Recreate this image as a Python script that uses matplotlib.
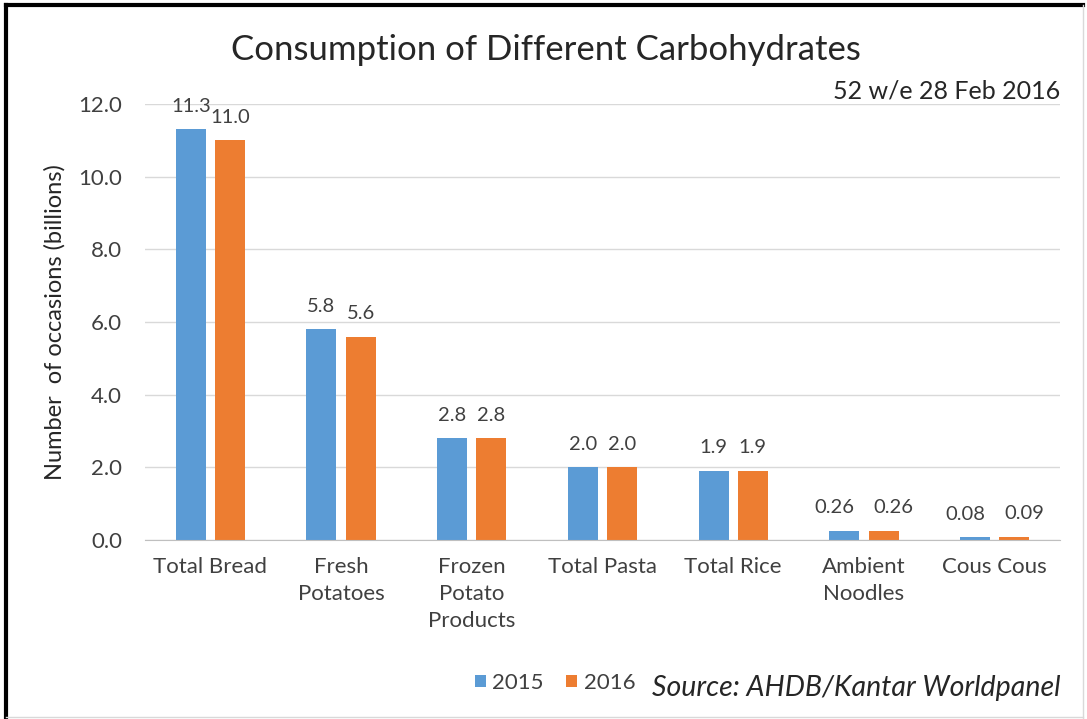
import matplotlib
matplotlib.use("Agg")
import matplotlib.pyplot as plt
import numpy as np
from matplotlib.lines import Line2D

plt.rcParams['font.family'] = ['Lato', 'DejaVu Sans']

categories = ["Total Bread", "Fresh\nPotatoes", "Frozen\nPotato\nProducts", "Total Pasta",
              "Total Rice", "Ambient\nNoodles", "Cous Cous"]
vals_2015 = [11.3, 5.8, 2.8, 2.0, 1.9, 0.26, 0.08]
vals_2016 = [11.0, 5.6, 2.8, 2.0, 1.9, 0.26, 0.09]
labels_2015 = ["11.3", "5.8", "2.8", "2.0", "1.9", "0.26", "0.08"]
labels_2016 = ["11.0", "5.6", "2.8", "2.0", "1.9", "0.26", "0.09"]
yticks = [0, 2, 4, 6, 8, 10, 12]

blue = "#5B9BD5"
orange = "#ED7D31"
txt = "#404040"

fig = plt.figure(figsize=(10.87, 7.19), dpi=100)
ax = fig.add_axes([145/1087, 1-540/719, (1060-145)/1087, (540-104)/719])

x = np.arange(len(categories))
w = 0.23
off = 0.15
b1 = ax.bar(x - off, vals_2015, w, color=blue, label="2015")
b2 = ax.bar(x + off, vals_2016, w, color=orange, label="2016")

# labels: spread apart horizontally (like Excel) where two "0.xx" labels would collide
for rect1, rect2, l1, l2 in zip(b1, b2, labels_2015, labels_2016):
    wide = l1.startswith("0.") and l2.startswith("0.")
    nudge = 7 if wide else 0
    for rect, lab, sgn in ((rect1, l1, -1), (rect2, l2, 1)):
        ax.annotate(lab, (rect.get_x() + rect.get_width()/2, rect.get_height() + 0.4),
                    xytext=(sgn * nudge, 0), textcoords="offset points",
                    ha="center", va="bottom", fontsize=14.5, color=txt, annotation_clip=False)

ax.set_xlim(-0.5, len(categories) - 0.5)
ax.set_ylim(0, 12)
ax.set_yticks(yticks)
ax.set_yticklabels([f"{v:.1f}" for v in yticks], fontsize=16, color=txt)
ax.set_xticks(x)
ax.set_xticklabels(categories, fontsize=16, color=txt, linespacing=1.45, va="top")
ax.tick_params(axis="both", length=0)
ax.tick_params(axis="y", pad=16.5)
ax.tick_params(axis="x", pad=12)
ax.grid(axis="y", color="#D9D9D9", linewidth=1)
ax.set_axisbelow(True)
for s in ["top", "right", "left"]:
    ax.spines[s].set_visible(False)
ax.spines["bottom"].set_color("#BFBFBF")

ax.set_ylabel("Number  of occasions (billions)", fontsize=17, color="#262626", labelpad=9)

fig.text(546/1087, 1-50/719, "Consumption of Different Carbohydrates", ha="center", va="center",
         fontsize=25, color="#262626")
fig.text(1060/1087, 1-91/719, "52 w/e 28 Feb 2016", ha="right", va="center", fontsize=18, color="#262626")
fig.text(1060/1087, 1-688/719, "Source: AHDB/Kantar Worldpanel", ha="right", va="center",
         fontsize=20.5, style="italic", color="#262626")

leg = fig.legend(handles=[b1, b2], labels=["2015", "2016"], loc="center",
                 bbox_to_anchor=(555/1087, 1-683/719), ncol=2, frameon=False, fontsize=16,
                 handlelength=0.5, handleheight=0.5, handletextpad=0.3, columnspacing=1.0)
for t in leg.get_texts():
    t.set_color(txt)

# outer frame: black left/top, light gray right/bottom
fig.add_artist(Line2D([6/1087, 6/1087], [0, 1-5/719], transform=fig.transFigure, color="black", linewidth=3))
fig.add_artist(Line2D([6/1087, 1083/1087], [1-5/719, 1-5/719], transform=fig.transFigure, color="black", linewidth=3))
fig.add_artist(Line2D([1083/1087, 1083/1087], [0, 1-5/719], transform=fig.transFigure, color="#D9D9D9", linewidth=1))
fig.add_artist(Line2D([6/1087, 1083/1087], [2/719, 2/719], transform=fig.transFigure, color="#D9D9D9", linewidth=1))

fig.savefig("out.png", dpi=100, facecolor="white")
